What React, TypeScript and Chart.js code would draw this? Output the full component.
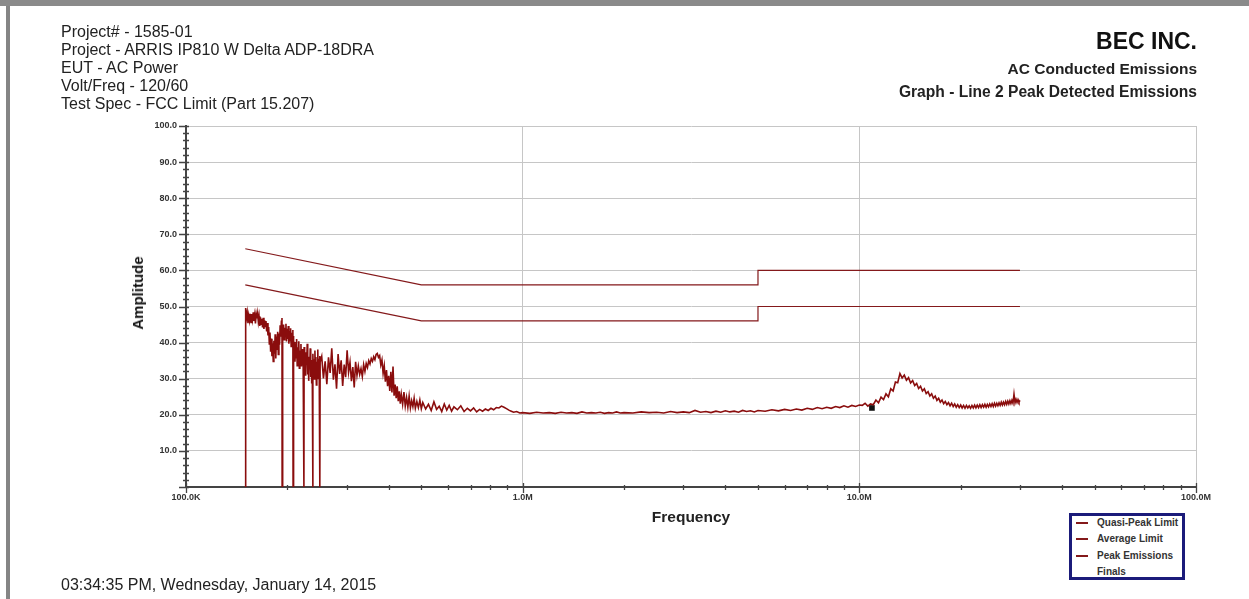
import React, { useEffect, useRef } from "react";
import { Chart, registerables } from "chart.js";

Chart.register(...registerables);

// Frequencies are in kHz, amplitudes in dBuV.
const quasiPeakLimit: [number, number][] = [[150, 66], [500, 56], [5000, 56], [5000, 60], [30000, 60]];
const averageLimit: [number, number][] = [[150, 56], [500, 46], [5000, 46], [5000, 50], [30000, 50]];
const finals: [number, number][] = [[10900, 21.9]];

// Peak detector sweep, 150 kHz - 250 kHz (includes the dropouts to the floor)
const peakLowBand: [number, number][] = [
  [150, 0], [150.4, 49.6], [151.2, 46.8], [152, 48.3], [152.8, 45.4], [153.6, 47.5], [154.4, 46.1], [155.2, 48.0],
  [156, 45.6], [156.8, 47.9], [157.6, 46.4], [158.4, 48.4], [159.2, 46.0], [160, 47.6], [160.8, 45.3], [161.6, 47.9],
  [162.4, 46.7], [163.2, 48.1], [164, 45.8], [164.8, 47.3], [165.6, 44.6], [166.4, 47.0], [167.2, 45.1], [168, 46.6],
  [168.8, 44.2], [169.6, 46.9], [170.4, 43.8], [171.2, 46.2], [172, 44.5], [172.8, 46.0], [173.6, 43.1], [174.4, 45.4],
  [175.2, 42.0], [176, 44.3], [176.8, 39.6], [177.6, 42.8], [178.4, 37.5], [179.2, 41.1], [180, 36.2], [180.8, 39.8],
  [181.6, 34.8], [182.4, 40.5], [183.2, 36.9], [184, 42.3], [184.8, 35.6], [185.6, 41.7], [186.4, 38.2], [187.2, 43.0],
  [188, 36.7], [188.8, 42.5], [189.6, 39.4], [190.4, 44.8], [191.2, 41.6], [192, 45.9], [192.8, 46.8], [193, 0],
  [193.3, 44.5], [194.1, 41.2], [194.9, 45.0], [195.7, 40.8], [196.5, 44.1], [197.3, 41.9], [198.1, 45.2], [198.9, 40.3],
  [199.7, 43.8], [200.5, 41.0], [201.3, 44.6], [202.1, 39.7], [202.9, 43.2], [203.7, 40.5], [204.5, 44.0], [205.3, 38.9],
  [206.1, 42.7], [206.9, 39.8], [207.7, 43.5], [208, 0], [208.3, 41.8], [209.1, 36.4], [209.9, 40.2], [210.7, 34.7],
  [211.5, 39.5], [212.3, 35.8], [213.1, 41.0], [213.9, 33.6], [214.7, 38.7], [215.5, 36.0], [216.3, 40.4], [217.1, 32.9],
  [217.9, 37.8], [218.7, 35.1], [219.5, 39.6], [220.3, 33.4], [221.1, 38.2], [221.9, 34.9], [222.7, 37.6], [224, 0],
  [224.3, 38.8], [225.1, 32.5], [225.9, 36.6], [226.7, 30.8], [227.5, 37.3], [228.3, 33.9], [229.1, 39.7], [229.9, 31.2],
  [230.7, 35.8], [231.5, 29.4], [232.3, 36.1], [233.1, 32.6], [233.9, 38.4], [234.7, 30.5], [235.5, 35.2], [236.3, 28.7],
  [237.1, 34.4], [238, 0], [238.3, 36.9], [239.1, 31.6], [239.9, 35.4], [240.7, 29.9], [241.5, 37.8], [242.3, 32.2],
  [243.1, 36.0], [243.9, 28.3], [244.7, 34.7], [245.5, 31.0], [246.3, 38.1], [247.1, 30.1], [247.9, 35.5], [248.7, 32.7],
  [249.5, 36.3], [250, 0], [250.3, 34.6],
];

// 250 kHz - 500 kHz: broadband hump around 370 kHz, then roll-off
const peakHumpBand: [number, number][] = [
  [253, 36.2], [256, 30.1], [259, 34.8], [262, 28.5], [265, 35.9], [268, 31.6], [271, 38.4], [274, 29.7],
  [277, 34.0], [280, 27.2], [283, 36.8], [286, 31.3], [289, 35.1], [292, 28.0], [295, 33.9], [298, 30.4],
  [301, 37.9], [304, 31.8], [307, 34.6], [310, 29.3], [313, 33.2], [316, 27.6], [319, 34.7], [322, 30.9],
  [325, 33.5], [328, 31.2], [331, 32.8], [334, 30.6], [337, 33.9], [340, 32.0], [343, 34.2], [346, 33.1],
  [349, 35.0], [352, 34.1], [355, 35.6], [358, 34.8], [361, 36.1], [364, 35.3], [367, 36.7], [370, 37.0],
  [373, 35.9], [376, 36.4], [379, 33.8], [382, 35.2], [385, 31.5], [388, 33.6], [391, 29.2], [394, 32.4],
  [397, 27.9], [400, 30.8], [403, 26.6], [406, 31.9], [409, 26.2], [412, 33.4], [415, 25.3], [418, 28.4],
  [421, 24.6], [424, 27.9], [427, 23.8], [430, 26.5], [433, 23.1], [436, 25.7], [440, 22.9], [444, 26.3],
  [448, 22.4], [452, 24.8], [456, 22.1], [460, 25.2], [464, 21.9], [468, 23.9], [472, 22.3], [476, 24.6],
  [480, 21.8], [485, 23.7], [490, 22.0], [495, 24.1], [500, 21.7],
];

// 500 kHz - 10 MHz: noise floor
const peakMidBand: [number, number][] = [
  [505, 23.4], [515, 21.6], [525, 22.9], [535, 21.2], [545, 23.6], [555, 21.5], [565, 22.4], [575, 20.9],
  [585, 23.0], [595, 21.3], [605, 22.6], [615, 21.0], [625, 22.2], [640, 21.4], [655, 22.5], [670, 20.9],
  [685, 21.8], [700, 21.1], [715, 21.9], [730, 20.8], [745, 21.5], [760, 21.0], [775, 21.6], [790, 21.2],
  [805, 21.8], [820, 21.4], [835, 22.0], [850, 21.9], [865, 22.4], [880, 22.1], [895, 21.7], [910, 21.3],
  [925, 21.0], [940, 20.7], [960, 20.9], [980, 20.5], [1000, 20.6], [1050, 20.4], [1100, 20.7], [1150, 20.5],
  [1200, 20.6], [1250, 20.4], [1300, 20.7], [1350, 20.5], [1400, 20.6], [1450, 20.4], [1500, 20.8], [1550, 20.5],
  [1600, 20.6], [1650, 20.5], [1700, 20.7], [1750, 20.4], [1800, 20.6], [1850, 20.5], [1900, 20.8], [1950, 20.5],
  [2000, 20.6], [2125, 20.5], [2250, 20.8], [2375, 20.6], [2500, 20.7], [2625, 20.5], [2750, 20.9], [2875, 20.6],
  [3000, 20.8], [3125, 20.6], [3250, 21.2], [3375, 20.7], [3500, 20.9], [3625, 20.6], [3750, 21.0], [3875, 20.7],
  [4000, 21.1], [4125, 20.8], [4250, 21.0], [4375, 20.7], [4500, 21.2], [4625, 20.9], [4750, 21.1], [4875, 20.8],
  [5000, 21.2], [5250, 21.0], [5500, 21.4], [5750, 21.1], [6000, 21.5], [6250, 21.2], [6500, 21.6], [6750, 21.3],
  [7000, 21.8], [7250, 21.5], [7500, 22.0], [7750, 21.7], [8000, 22.1], [8250, 21.8], [8500, 22.3], [8750, 22.0],
  [9000, 22.5], [9250, 22.1], [9500, 22.6], [9750, 22.3], [10000, 22.7],
];

// 10 MHz - 30 MHz: resonance near 13 MHz
const peakHighBand: [number, number][] = [
  [10200, 22.6], [10400, 23.2], [10600, 22.4], [10800, 23.0], [11000, 22.8], [11200, 24.1], [11400, 23.3], [11600, 24.9],
  [11800, 24.2], [12000, 25.8], [12200, 25.0], [12400, 27.2], [12600, 26.6], [12800, 29.1], [13000, 28.9], [13200, 31.4],
  [13400, 30.2], [13600, 31.0], [13800, 29.6], [14000, 30.3], [14200, 28.8], [14400, 29.5], [14600, 28.1], [14800, 28.7],
  [15000, 27.3], [15200, 27.9], [15400, 26.6], [15600, 27.2], [15800, 25.9], [16000, 26.4], [16200, 25.2], [16400, 25.8],
  [16600, 24.6], [16800, 25.2], [17000, 24.0], [17200, 24.6], [17400, 23.5], [17600, 24.1], [17800, 23.1], [18000, 23.7],
  [18200, 22.8], [18400, 23.4], [18600, 22.5], [18800, 23.2], [19000, 22.3], [19200, 23.0], [19400, 22.1], [19600, 22.8],
  [19800, 22.0], [20000, 22.7], [20200, 21.9], [20400, 22.6], [20600, 21.8], [20800, 22.6], [21000, 21.9], [21200, 22.5],
  [21400, 21.8], [21600, 22.6], [21800, 21.9], [22000, 22.7], [22200, 21.9], [22400, 22.7], [22600, 22.0], [22800, 22.8],
  [23000, 22.0], [23200, 22.8], [23400, 22.1], [23600, 22.9], [23800, 22.1], [24000, 22.9], [24200, 22.2], [24400, 23.0],
  [24600, 22.3], [24800, 23.1], [25000, 22.3], [25200, 23.2], [25400, 22.4], [25600, 23.2], [25800, 22.5], [26000, 23.3],
  [26200, 22.6], [26400, 23.5], [26600, 22.7], [26800, 23.5], [27000, 22.8], [27200, 23.7], [27400, 22.9], [27600, 23.8],
  [27800, 23.0], [28000, 23.9], [28200, 23.1], [28400, 24.0], [28600, 23.2], [28800, 25.7], [29000, 23.3], [29200, 24.3],
  [29400, 23.4], [29600, 24.2], [29800, 23.5], [30000, 24.0],
];

const xTickValues = [100, 1000, 10000, 100000];
const xTickLabels = ["100.0K", "1.0M", "10.0M", "100.0M"];
const xMinorMultipliers = [2, 3, 4, 5, 6, 7, 8, 9];
const yMin = 0;
const yMax = 100;
const yStep = 10;
const yMinorStep = 2;

const headerLines = [
  "Project# - 1585-01",
  "Project - ARRIS IP810 W Delta ADP-18DRA",
  "EUT - AC Power",
  "Volt/Freq - 120/60",
  "Test Spec - FCC Limit (Part 15.207)",
];

const legendItems = [
  { label: "Quasi-Peak Limit", line: true },
  { label: "Average Limit", line: true },
  { label: "Peak Emissions", line: true },
  { label: "Finals", line: false },
];

const FONT = "Arial, 'Liberation Sans', sans-serif";
const LIMIT_COLOR = "#84191b";
const PEAK_COLOR = "#8a0d0d";
const GRID_COLOR = "#c6c6c6";
const AXIS_COLOR = "#444444";

const toXY = (rows: [number, number][]) => rows.map(([x, y]) => ({ x, y }));

// Tick marks that straddle the axis lines, with minor ticks between labels
const axisTicksPlugin = {
  id: "axisTicks",
  afterDraw(chart: any) {
    const { ctx, chartArea } = chart;
    const xs = chart.scales.x;
    const ys = chart.scales.y;
    ctx.save();
    ctx.strokeStyle = AXIS_COLOR;
    ctx.lineWidth = 1.3;
    ctx.beginPath();
    for (let v = yMin; v <= yMax; v += yMinorStep) {
      const py = Math.round(ys.getPixelForValue(v)) + 0.5;
      const major = v % yStep === 0;
      ctx.moveTo(chartArea.left - (major ? 7 : 3), py);
      ctx.lineTo(chartArea.left + 3, py);
    }
    xTickValues.forEach((decade, i) => {
      const px = Math.round(xs.getPixelForValue(decade)) + 0.5;
      ctx.moveTo(px, chartArea.bottom - 4);
      ctx.lineTo(px, chartArea.bottom + 6);
      if (i < xTickValues.length - 1) {
        xMinorMultipliers.forEach((m) => {
          const mx = Math.round(xs.getPixelForValue(decade * m)) + 0.5;
          ctx.moveTo(mx, chartArea.bottom - 2);
          ctx.lineTo(mx, chartArea.bottom + 3);
        });
      }
    });
    ctx.stroke();
    ctx.restore();
  },
};

export default function App() {
  const canvasRef = useRef<HTMLCanvasElement>(null);

  useEffect(() => {
    const canvas = canvasRef.current;
    if (!canvas) return;
    const chart = new Chart(canvas, {
      type: "line",
      data: {
        datasets: [
          {
            label: "Quasi-Peak Limit",
            data: toXY(quasiPeakLimit),
            borderColor: LIMIT_COLOR,
            borderWidth: 1.2,
            pointRadius: 0,
            tension: 0,
          },
          {
            label: "Average Limit",
            data: toXY(averageLimit),
            borderColor: LIMIT_COLOR,
            borderWidth: 1.2,
            pointRadius: 0,
            tension: 0,
          },
          {
            label: "Peak Emissions",
            data: toXY([...peakLowBand, ...peakHumpBand, ...peakMidBand, ...peakHighBand]),
            borderColor: PEAK_COLOR,
            borderWidth: 1.6,
            pointRadius: 0,
            tension: 0,
          },
          {
            label: "Finals",
            data: toXY(finals),
            showLine: false,
            pointStyle: "rect",
            pointRadius: 4,
            borderWidth: 0,
            backgroundColor: "#111111",
            borderColor: "#111111",
          },
        ],
      } as any,
      options: {
        animation: false,
        responsive: false,
        maintainAspectRatio: false,
        layout: { padding: { left: 0, top: 126, right: 53, bottom: 0 } },
        plugins: {
          legend: { display: false },
          tooltip: { enabled: false },
        },
        scales: {
          x: {
            type: "logarithmic",
            min: 100,
            max: 100000,
            afterBuildTicks: (scale: any) => {
              scale.ticks = xTickValues.map((value) => ({ value }));
            },
            afterFit: (scale: any) => {
              scale.height = 112;
              scale.paddingLeft = 0;
              scale.paddingRight = 0;
            },
            ticks: {
              autoSkip: false,
              maxRotation: 0,
              minRotation: 0,
              padding: 5,
              color: "#333333",
              font: { family: FONT, size: 9, weight: "bold" },
              callback: (value: any) => {
                const i = xTickValues.indexOf(Number(value));
                return i >= 0 ? xTickLabels[i] : "";
              },
            },
            grid: { color: GRID_COLOR, lineWidth: 1, drawTicks: false },
            border: { display: true, color: AXIS_COLOR, width: 2 },
          },
          y: {
            type: "linear",
            min: yMin,
            max: yMax,
            afterFit: (scale: any) => {
              scale.width = 186;
              scale.paddingTop = 0;
              scale.paddingBottom = 0;
            },
            ticks: {
              stepSize: yStep,
              padding: 9,
              color: "#333333",
              font: { family: FONT, size: 9, weight: "bold" },
              callback: (value: any) => (Number(value) === 0 ? "" : Number(value).toFixed(1)),
            },
            grid: { color: GRID_COLOR, lineWidth: 1, drawTicks: false },
            border: { display: true, color: AXIS_COLOR, width: 2 },
          },
        },
      } as any,
      plugins: [axisTicksPlugin],
    });
    return () => chart.destroy();
  }, []);

  const abs = (style: React.CSSProperties): React.CSSProperties => ({
    position: "absolute",
    whiteSpace: "nowrap",
    ...style,
  });

  return (
    <div
      style={{
        position: "fixed",
        left: 0,
        top: 0,
        width: 1249,
        height: 599,
        background: "#ffffff",
        overflow: "hidden",
        fontFamily: FONT,
        color: "#222222",
      }}
    >
      <canvas
        ref={canvasRef}
        width={1249}
        height={599}
        style={{ position: "absolute", left: 0, top: 0, width: 1249, height: 599 }}
      />

      {/* page frame */}
      <div style={abs({ left: 0, top: 0, width: 1249, height: 6, background: "#8a8a8a" })} />
      <div style={abs({ left: 6, top: 6, width: 4, height: 593, background: "#858585" })} />

      {/* report header */}
      <div style={abs({ left: 61, top: 22.6, fontSize: 16, lineHeight: "18.1px" })}>
        {headerLines.map((line) => (
          <div key={line}>{line}</div>
        ))}
      </div>
      <div
        style={abs({
          right: 52,
          top: 28.5,
          fontSize: 23,
          lineHeight: "24px",
          fontWeight: "bold",
          color: "#111111",
          textAlign: "right",
        })}
      >
        BEC INC.
      </div>
      <div
        style={abs({
          right: 52,
          top: 59.8,
          fontSize: 15.5,
          lineHeight: "18px",
          fontWeight: "bold",
          color: "#222222",
          textAlign: "right",
        })}
      >
        AC Conducted Emissions
      </div>
      <div
        style={abs({
          right: 52,
          top: 82.7,
          fontSize: 15.6,
          lineHeight: "18px",
          fontWeight: "bold",
          color: "#222222",
          textAlign: "right",
        })}
      >
        Graph - Line 2 Peak Detected Emissions
      </div>

      {/* axis titles */}
      <div
        style={abs({
          left: 138,
          top: 293,
          fontSize: 15,
          lineHeight: "18px",
          fontWeight: "bold",
          color: "#111111",
          transform: "translate(-50%, -50%) rotate(-90deg)",
        })}
      >
        Amplitude
      </div>
      <div
        style={abs({
          left: 691,
          top: 508,
          fontSize: 15.5,
          lineHeight: "18px",
          fontWeight: "bold",
          color: "#222222",
          transform: "translateX(-50%)",
        })}
      >
        Frequency
      </div>

      {/* legend */}
      <div
        style={abs({
          left: 1069,
          top: 513,
          width: 116,
          height: 67,
          boxSizing: "border-box",
          border: "3px solid #1b1b7a",
          background: "#ffffff",
        })}
      >
        {legendItems.map((item, i) => (
          <div key={item.label} style={abs({ left: 0, top: Math.round(1 + i * 16.4), height: 12, width: 110 })}>
            {item.line && (
              <div style={abs({ left: 4, top: 5, width: 12, height: 2, background: LIMIT_COLOR })} />
            )}
            <div
              style={abs({
                left: 25,
                top: 0,
                fontSize: 10,
                lineHeight: "12px",
                fontWeight: "bold",
                color: "#333333",
              })}
            >
              {item.label}
            </div>
          </div>
        ))}
      </div>

      {/* footer timestamp */}
      <div style={abs({ left: 61, top: 576, fontSize: 16, lineHeight: "18px" })}>
        03:34:35 PM, Wednesday, January 14, 2015
      </div>
    </div>
  );
}
